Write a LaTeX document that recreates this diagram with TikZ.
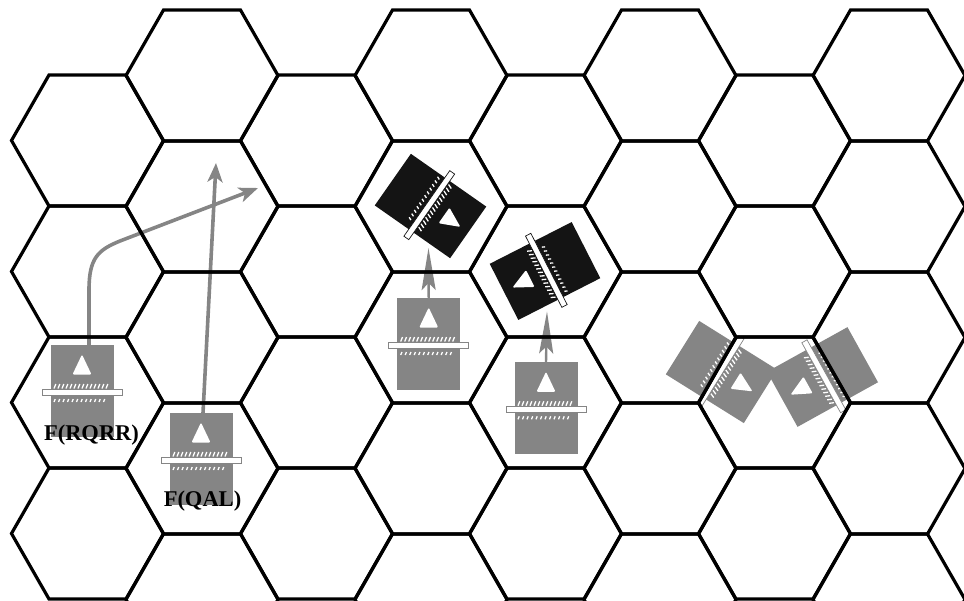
\documentclass[tikz,border=0pt]{standalone}
\usepackage{fontspec}
\setmainfont{Liberation Serif}
\usetikzlibrary{arrows.meta}
\definecolor{unitGray}{HTML}{858585}
\definecolor{unitBlack}{HTML}{141414}
\newcommand{\hexw}{76}
\newcommand{\hext}{38.5}
\newcommand{\hexh}{65.5}
\tikzset{
  hexline/.style={line width=3.2pt, black},
  unitbox/.style={draw=none, minimum width=63pt, minimum height=92pt, inner sep=0pt, outer sep=0pt},
  barbox/.style={fill=white, draw=#1, line width=0.7pt},
  hatch/.style={white, line width=1.3pt},
  move/.style={unitGray, line width=3.6pt, -{Stealth[length=19pt, width=15pt, inset=5pt]}},   % movement path
  facing/.style={unitGray, line width=2.4pt, -{Stealth[length=42pt, width=14pt, inset=7pt]}}, % short advance
  unitlbl/.style={font=\fontsize{22.5}{26}\selectfont\bfseries, inner sep=0pt, anchor=base},
}
\newcommand{\hexcell}[2]{%
  \draw[hexline] (#1-\hexw,#2) -- (#1-\hext,#2-\hexh) -- (#1+\hext,#2-\hexh)
    -- (#1+\hexw,#2) -- (#1+\hext,#2+\hexh) -- (#1-\hext,#2+\hexh) -- cycle;}
\newcommand{\unitat}[4]{% name, centre, rotation, fill
  \node[unitbox, fill=#4, rotate=#3] (#1) at (#2) {};
  \begin{scope}[shift={(#2)}, rotate=#3]
    \fill[white, rounded corners=1.2pt] (-9.5,-16.5) -- (9.5,-16.5) -- (0,-36.5) -- cycle;
    \foreach \hx in {-28,-24,...,24} \draw[hatch] (\hx,-2.5) -- ++(1.8,-4.5);
    \foreach \hx in {-28,-23.5,...,24} \draw[hatch] (\hx,11) -- ++(1.2,-3);
    \draw[barbox=#4] (-40,-1.5) rectangle (40,4.5);
  \end{scope}}

\begin{document}
\begin{tikzpicture}[x=1pt, y=-1pt]
  \useasboundingbox (0,0) rectangle (964,600);
  \clip (0,0) rectangle (964,600);

  % counters
  \unitat{rqrr}{82,391}{0}{unitGray}
  \unitat{qal}{201,459}{0}{unitGray}
  \unitat{g3}{428.7,344}{0}{unitGray}
  \unitat{g4}{546,408.3}{0}{unitGray}
  \unitat{b1}{430.5,206}{-125}{unitBlack}
  \unitat{b2}{545,271}{117}{unitBlack}
  \unitat{g5}{721.5,372}{-122}{unitGray}
  \unitat{g6}{822.5,377}{119}{unitGray}

  % moves
  \coordinate (bendA) at (89,290);
  \coordinate (turnA) at (120,241);
  \coordinate (tipA) at (258,188);
  \coordinate (tipB) at (216,163);
  \coordinate (tipC) at (428.5,248);
  \coordinate (tipD) at (547,311.5);
  \draw[move] (rqrr.north -| bendA) -- (bendA) .. controls +(0,-32) and +(-22,9) .. (turnA) -- (tipA);
  \draw[move] ([xshift=2pt]qal.north) -- (tipB);
  \draw[facing] (g3.north) -- (tipC);
  \draw[facing] (g4.north) -- (tipD);

  % hex grid
  \foreach \i in {1,...,8}{
    \pgfmathsetmacro{\cx}{87.5+114.5*(\i-1)}
    \pgfmathtruncatemacro{\odd}{mod(\i,2)}
    \ifnum\odd=1 \def\ytop{140.5}\def\nk{3}\else \def\ytop{75.5}\def\nk{4}\fi
    \foreach \k in {0,...,\nk}{
      \pgfmathsetmacro{\cy}{\ytop+131*\k}
      \hexcell{\cx}{\cy}
    }
  }

  \node[unitlbl] (lblA) at (91.5,440) {F(RQRR)};
  \node[unitlbl] (lblB) at (202.5,506) {F(QAL)};
\end{tikzpicture}
\end{document}
